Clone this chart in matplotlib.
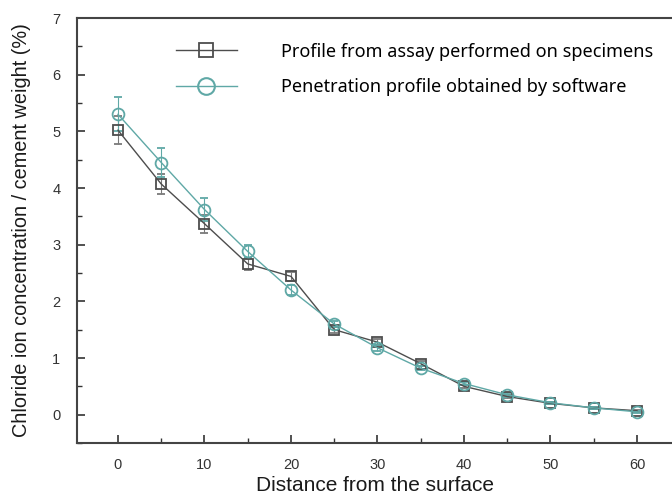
import matplotlib
matplotlib.use("Agg")
import matplotlib.pyplot as plt
from matplotlib.ticker import MultipleLocator
from matplotlib.lines import Line2D

distance = [0, 5, 10, 15, 20, 25, 30, 35, 40, 45, 50, 55, 60]
assay = [5.02, 4.07, 3.37, 2.66, 2.44, 1.50, 1.28, 0.90, 0.50, 0.32, 0.20, 0.12, 0.07]
assay_err = [0.25, 0.18, 0.16, 0.10, 0.08, 0.05, 0.05, 0.04, 0.03, 0.03, 0.02, 0.02, 0.02]
software = [5.30, 4.45, 3.62, 2.88, 2.20, 1.60, 1.18, 0.82, 0.55, 0.35, 0.21, 0.12, 0.05]
software_err = [0.30, 0.25, 0.20, 0.12, 0.08, 0.05, 0.05, 0.04, 0.03, 0.03, 0.02, 0.02, 0.02]

label_assay = "Profile from assay performed on specimens"
label_soft = "Penetration profile obtained by software"

gray = "#4d4d4d"
teal = "#5fa8a6"

fig = plt.figure(figsize=(6.72, 4.99), dpi=100)
ax = fig.add_axes([77/672, 1 - 443/499, 1 - 77/672, (443 - 18)/499])

ax.errorbar(distance, assay, yerr=assay_err, color=gray, marker="s", ms=7.5,
            mfc="none", mec=gray, mew=1.3, lw=1.0, capsize=3, elinewidth=0.8,
            ecolor="#7a7a7a", zorder=3)
ax.errorbar(distance, software, yerr=software_err, color=teal, marker="o", ms=8.5,
            mfc="none", mec=teal, mew=1.3, lw=1.0, capsize=3, elinewidth=0.8,
            ecolor=teal, zorder=3)

ax.set_xlim(-4.74, 64.05)
ax.set_ylim(-0.5, 7)
ax.xaxis.set_major_locator(MultipleLocator(10))
ax.xaxis.set_minor_locator(MultipleLocator(5))
ax.yaxis.set_major_locator(MultipleLocator(1))
ax.yaxis.set_minor_locator(MultipleLocator(0.5))
ax.tick_params(which="both", direction="in", top=False, right=False,
               labelsize=10.5, labelcolor="#333333", color="#333333")
ax.tick_params(which="major", length=6, width=1.2)
ax.tick_params(axis="x", which="major", pad=11)
ax.tick_params(axis="y", which="major", pad=12)
ax.tick_params(which="minor", length=3.5, width=1.0)
for lbl in ax.get_xticklabels() + ax.get_yticklabels():
    lbl.set_fontfamily("Liberation Sans")
ax.spines["right"].set_visible(False)
for s in ("left", "bottom", "top"):
    ax.spines[s].set_linewidth(1.5)
    ax.spines[s].set_color("#444444")

ax.set_xlabel("Distance from the surface", fontsize=15, family="Liberation Sans",
              color="#1a1a1a", labelpad=3)
ax.set_ylabel("Chloride ion concentration / cement weight (%)", fontsize=14.3,
              family="Liberation Sans", color="#1a1a1a", labelpad=15)

handles = [
    Line2D([], [], color=gray, marker="s", ms=10, mfc="none", mec=gray, mew=1.3, lw=1.0),
    Line2D([], [], color=teal, marker="o", ms=12, mfc="none", mec=teal, mew=1.5, lw=1.0),
]
leg = ax.legend(handles, [label_assay, label_soft], loc="upper right",
                bbox_to_anchor=(0.995, 0.98), frameon=False, handlelength=3.4,
                handletextpad=2.4, labelspacing=0.95,
                prop={"family": "Noto Sans", "size": 13})

fig.savefig("out.png", dpi=100)
